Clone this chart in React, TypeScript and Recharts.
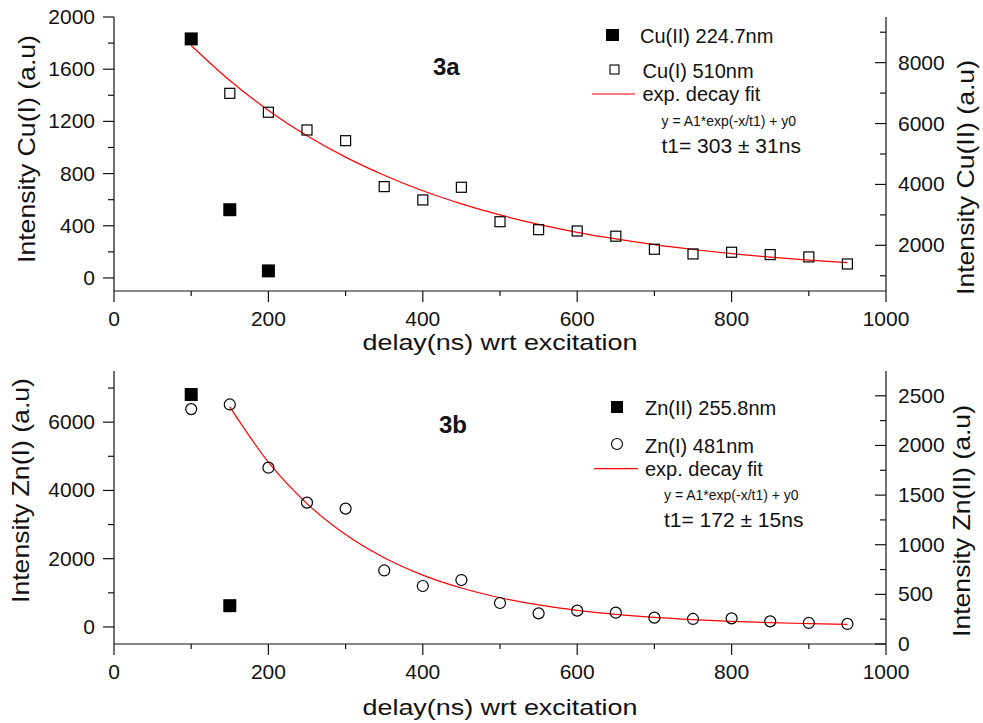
import React from 'react';
import { ComposedChart, Scatter, Line, XAxis, YAxis, Legend } from 'recharts';

// delays (ns) shared by both panels
const delays = [100, 150, 200, 250, 300, 350, 400, 450, 500, 550, 600, 650, 700, 750, 800, 850, 900, 950];

// panel 3a
const cuIValues = [1830, 1415, 1270, 1134, 1052, 700, 598, 695, 431, 370, 360, 320, 220, 184, 197, 179, 161, 107];
const cuIIDelays = [100, 150, 200];
const cuIIValues = [8780, 3170, 1160];
const cuFitDelays = [100, 150, 200, 250, 300, 350, 400, 450, 500, 550, 600, 650, 700, 750, 800, 850, 900, 950];
const cuFitValues = [1782, 1513, 1284, 1090, 926, 787, 668, 568, 483, 411, 350, 299, 255, 218, 186, 159, 136, 117];

// panel 3b
const znIValues = [6383, 6520, 4667, 3643, 3468, 1655, 1199, 1374, 702, 398, 477, 418, 272, 234, 251, 164, 117, 88];
const znIIDelays = [100, 150];
const znIIValues = [2513, 386];
const znFitDelays = [150, 200, 250, 300, 350, 400, 450, 500, 550, 600, 650, 700, 750, 800, 850, 900, 950];
const znFitValues = [6450, 4828, 3615, 2706, 2027, 1519, 1140, 856, 644, 486, 367, 278, 212, 162, 125, 97, 76];

// axis ticks
const xTicks = [0, 100, 200, 300, 400, 500, 600, 700, 800, 900, 1000];
const cuLeftTicks = [0, 200, 400, 600, 800, 1000, 1200, 1400, 1600, 1800, 2000];
const cuRightTicks = [1000, 2000, 3000, 4000, 5000, 6000, 7000, 8000, 9000];
const znLeftTicks = [0, 1000, 2000, 3000, 4000, 5000, 6000, 7000];
const znRightTicks = [0, 250, 500, 750, 1000, 1250, 1500, 1750, 2000, 2250, 2500];

const toPts = (xs: number[], ys: number[]) => xs.map((x, i) => ({ x, y: ys[i] }));

const cuIPts = toPts(delays, cuIValues);
const cuIIPts = toPts(cuIIDelays, cuIIValues);
const cuFitPts = toPts(cuFitDelays, cuFitValues);
const znIPts = toPts(delays, znIValues);
const znIIPts = toPts(znIIDelays, znIIValues);
const znFitPts = toPts(znFitDelays, znFitValues);

const FONT = '"Liberation Sans", Arial, Helvetica, sans-serif';
const INK = '#111';
const RED = '#ff0000';
const axisLine = { stroke: INK, strokeWidth: 1.2 };

const isMajor = (v: number, step: number) => Math.abs(v % step) < 1e-6;

const BottomTick = (props: any) => {
    const { x, y, payload } = props;
    const major = isMajor(payload.value, 200);
    return (
        <g>
            <line x1={x} x2={x} y1={y} y2={y + (major ? 11 : 5)} stroke={INK} strokeWidth={1.2} />
            {major && (
                <text x={x} y={y + 34.5} textAnchor="middle" fontSize={21} fontFamily={FONT} fill={INK}>
                    {payload.value}
                </text>
            )}
        </g>
    );
};

const TopTick = (props: any) => {
    const { x, y } = props;
    return <line x1={x} x2={x} y1={y - 3} y2={y} stroke={INK} strokeWidth={1} />;
};

const LeftTick = (props: any) => {
    const { x, y, payload, step } = props;
    const major = isMajor(payload.value, step);
    return (
        <g>
            <line x1={x - (major ? 11 : 6)} x2={x} y1={y} y2={y} stroke={INK} strokeWidth={1.2} />
            {major && (
                <text x={x - 19} y={y + 7} textAnchor="end" fontSize={21} fontFamily={FONT} fill={INK}>
                    {payload.value}
                </text>
            )}
        </g>
    );
};

// right axis ticks point into the plot
const RightTick = (props: any) => {
    const { x, y, payload, step } = props;
    const major = isMajor(payload.value, step);
    return (
        <g>
            <line x1={x - (major ? 11 : 6)} x2={x} y1={y} y2={y} stroke={INK} strokeWidth={1.2} />
            {major && (
                <text x={x + 12} y={y + 7} textAnchor="start" fontSize={21} fontFamily={FONT} fill={INK}>
                    {payload.value}
                </text>
            )}
        </g>
    );
};

const AxisTitle = (props: any) => {
    const { text, px, py, len, size = 24, rotated } = props;
    return (
        <text
            x={px}
            y={py}
            transform={rotated ? `rotate(-90 ${px} ${py})` : undefined}
            textAnchor="middle"
            fontSize={size}
            fontFamily={FONT}
            fill={INK}
            textLength={len}
            lengthAdjust="spacingAndGlyphs"
        >
            {text}
        </text>
    );
};

const FilledSquare = (p: any) => <rect x={p.cx - 6.5} y={p.cy - 6.5} width={13} height={13} fill="#000" />;
const OpenSquare = (p: any) => (
    <rect x={p.cx - 5} y={p.cy - 5} width={10} height={10} fill="none" stroke="#000" strokeWidth={1.2} />
);
const OpenCircle = (p: any) => <circle cx={p.cx} cy={p.cy} r={5.5} fill="none" stroke="#000" strokeWidth={1.2} />;

const CuNotes = () => (
    <svg width={983} height={360} style={{ display: 'block' }} fontFamily={FONT} fill={INK}>
        <text x={433} y={75} fontSize={24} fontWeight="bold">3a</text>
        <rect x={606} y={29} width={13} height={12} fill="#000" />
        <text x={640} y={42.5} fontSize={20}>Cu(II) 224.7nm</text>
        <rect x={610} y={65} width={9} height={9} fill="none" stroke="#000" strokeWidth={1.1} />
        <text x={642.5} y={78} fontSize={20}>Cu(I) 510nm</text>
        <line x1={592} x2={635} y1={94} y2={94} stroke={RED} strokeWidth={1.2} />
        <text x={642.5} y={101} fontSize={20}>exp. decay fit</text>
        <text x={661.5} y={126} fontSize={14}>y = A1*exp(-x/t1) + y0</text>
        <text x={661.5} y={152.5} fontSize={21}>t1= 303 ± 31ns</text>
    </svg>
);

const ZnNotes = () => (
    <svg width={983} height={363} style={{ display: 'block' }} fontFamily={FONT} fill={INK}>
        <text x={439} y={73} fontSize={24} fontWeight="bold">3b</text>
        <rect x={611} y={41} width={12} height={12} fill="#000" />
        <text x={645} y={54.5} fontSize={20}>Zn(II) 255.8nm</text>
        <circle cx={617} cy={84} r={5.5} fill="none" stroke="#000" strokeWidth={1.1} />
        <text x={645} y={92.5} fontSize={20}>Zn(I) 481nm</text>
        <line x1={594} x2={638} y1={108.7} y2={108.7} stroke={RED} strokeWidth={1.2} />
        <text x={645} y={116} fontSize={20}>exp. decay fit</text>
        <text x={664} y={140} fontSize={14}>y = A1*exp(-x/t1) + y0</text>
        <text x={664} y={166.5} fontSize={21}>t1= 172 ± 15ns</text>
    </svg>
);

const CuPanel = () => (
    <ComposedChart width={983} height={360} margin={{ top: 17, right: 0, bottom: 0, left: 0 }}>
        <XAxis
            xAxisId="b" dataKey="x" type="number" domain={[0, 1000]} ticks={xTicks} interval={0}
            tickSize={0} tickMargin={0} tickLine={false} axisLine={axisLine} tick={<BottomTick />}
            height={69} allowDataOverflow
            label={<AxisTitle text="delay(ns) wrt excitation" px={500} py={350} len={275} size={22} />}
        />
        <XAxis
            xAxisId="t" orientation="top" type="number" domain={[0, 1000]} ticks={xTicks} interval={0}
            tickSize={0} tickMargin={0} tickLine={false} axisLine={axisLine} tick={<TopTick />} height={0}
        />
        <YAxis
            yAxisId="l" dataKey="y" type="number" domain={[-100, 2000]} ticks={cuLeftTicks} interval={0}
            tickSize={0} tickMargin={0} tickLine={false} axisLine={axisLine} tick={<LeftTick step={400} />}
            width={114} allowDataOverflow
            label={<AxisTitle text="Intensity Cu(I) (a.u)" px={34.5} py={149} len={228} rotated />}
        />
        <YAxis
            yAxisId="r" orientation="right" dataKey="y" type="number" domain={[500, 9500]} ticks={cuRightTicks}
            interval={0} tickSize={0} tickMargin={0} tickLine={false} axisLine={axisLine}
            tick={<RightTick step={2000} />} width={97} allowDataOverflow
            label={<AxisTitle text="Intensity Cu(II) (a.u)" px={974} py={177.5} len={235} rotated />}
        />
        <Line xAxisId="b" yAxisId="l" data={cuFitPts} dataKey="y" type="monotone" stroke={RED} strokeWidth={1.2} dot={false} isAnimationActive={false} />
        <Scatter xAxisId="b" yAxisId="l" data={cuIPts} shape={<OpenSquare />} isAnimationActive={false} />
        <Scatter xAxisId="b" yAxisId="r" data={cuIIPts} shape={<FilledSquare />} isAnimationActive={false} />
        <Legend
            layout="horizontal" verticalAlign="middle" align="center" content={<CuNotes />}
            wrapperStyle={{ left: 0, top: 0, width: 983, height: 360, pointerEvents: 'none' }}
        />
    </ComposedChart>
);

const ZnPanel = () => (
    <ComposedChart width={983} height={363} margin={{ top: 11, right: 0, bottom: 0, left: 0 }}>
        <XAxis
            xAxisId="b" dataKey="x" type="number" domain={[0, 1000]} ticks={xTicks} interval={0}
            tickSize={0} tickMargin={0} tickLine={false} axisLine={axisLine} tick={<BottomTick />}
            height={79} allowDataOverflow
            label={<AxisTitle text="delay(ns) wrt excitation" px={500} py={355} len={275} size={22} />}
        />
        <XAxis
            xAxisId="t" orientation="top" type="number" domain={[0, 1000]} ticks={xTicks} interval={0}
            tickSize={0} tickMargin={0} tickLine={false} axisLine={axisLine} tick={<TopTick />} height={0}
        />
        <YAxis
            yAxisId="l" dataKey="y" type="number" domain={[-500, 7500]} ticks={znLeftTicks} interval={0}
            tickSize={0} tickMargin={0} tickLine={false} axisLine={axisLine} tick={<LeftTick step={2000} />}
            width={114} allowDataOverflow
            label={<AxisTitle text="Intensity Zn(I) (a.u)" px={29} py={130.5} len={225} rotated />}
        />
        <YAxis
            yAxisId="r" orientation="right" dataKey="y" type="number" domain={[0, 2750]} ticks={znRightTicks}
            interval={0} tickSize={0} tickMargin={0} tickLine={false} axisLine={axisLine}
            tick={<RightTick step={500} />} width={97} allowDataOverflow
            label={<AxisTitle text="Intensity Zn(II) (a.u)" px={970} py={161} len={232} rotated />}
        />
        <Line xAxisId="b" yAxisId="l" data={znFitPts} dataKey="y" type="monotone" stroke={RED} strokeWidth={1.2} dot={false} isAnimationActive={false} />
        <Scatter xAxisId="b" yAxisId="l" data={znIPts} shape={<OpenCircle />} isAnimationActive={false} />
        <Scatter xAxisId="b" yAxisId="r" data={znIIPts} shape={<FilledSquare />} isAnimationActive={false} />
        <Legend
            layout="horizontal" verticalAlign="middle" align="center" content={<ZnNotes />}
            wrapperStyle={{ left: 0, top: 0, width: 983, height: 363, pointerEvents: 'none' }}
        />
    </ComposedChart>
);

export default function App() {
    return (
        <div style={{ position: 'absolute', left: 0, top: 0, width: 983, height: 723, background: '#fff' }}>
            <div style={{ position: 'absolute', left: 0, top: 0 }}>
                <CuPanel />
            </div>
            <div style={{ position: 'absolute', left: 0, top: 360 }}>
                <ZnPanel />
            </div>
        </div>
    );
}
